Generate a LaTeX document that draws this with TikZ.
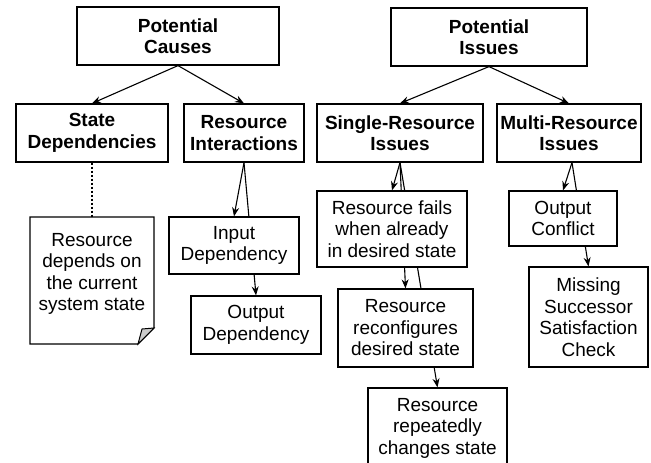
\documentclass[tikz,border=0pt]{standalone}
\usepackage{fontspec}
\setmainfont{Liberation Sans}
\usetikzlibrary{arrows.meta,positioning,backgrounds}

\begin{document}
\begin{tikzpicture}[x=1pt, y=-1pt,
  every node/.style={font=\fontsize{19}{21.5}\selectfont, align=center},
  head/.style={draw, line width=1.2pt, fill=white, inner sep=0pt, font=\fontsize{19}{21.5}\selectfont\bfseries},
  leaf/.style={draw, line width=1.2pt, fill=white, inner sep=0pt},
  arr/.style={-{Stealth[length=9pt,width=7pt]}, line width=1.1pt}
]
\useasboundingbox (0,0) rectangle (651,463);

% top level
\node[head, minimum width=202, minimum height=58] (causes) at (178,36) {Potential\\Causes};
\node[head, minimum width=196, minimum height=58] (issues) at (489,37) {Potential\\Issues};

% second level
\node[head, minimum width=152, minimum height=58] (statedep) at (92,133) {State\\Dependencies};
\node[head, minimum width=120, minimum height=58] (resint) at (244,133) {Resource\\Interactions};
\node[head, minimum width=166, minimum height=58] (single) at (400,133) {Single-Resource\\Issues};
\node[head, minimum width=144, minimum height=58] (multi) at (569,133) {Multi-Resource\\Issues};

% note with folded corner
\draw[line width=1.2pt, fill=white] (30,217) -- (154,217) -- (154,328) -- (138,344) -- (30,344) -- cycle;
\draw[line width=1pt, fill=gray!40] (154,328) -- (142,329) -- (138,344) -- cycle;
\node[minimum width=124, minimum height=114, inner sep=0pt] (note) at (92,274) {Resource\\depends on\\the current\\system state};

% leaves
\node[leaf, minimum width=130, minimum height=57] (indep) at (234,245.5) {Input\\Dependency};
\node[leaf, minimum width=130, minimum height=58] (outdep) at (256,325) {Output\\Dependency};
\node[leaf, minimum width=150, minimum height=76] (fails) at (392,229) {Resource fails\\when already\\in desired state};
\node[leaf, minimum width=135, minimum height=78] (reconf) at (405.5,328) {Resource\\reconfigures\\desired state};
\node[leaf, minimum width=139, minimum height=80] (repeats) at (437.5,428) {Resource\\repeatedly\\changes state};
\node[leaf, minimum width=108, minimum height=55] (conflict) at (563,218.5) {Output\\Conflict};
\node[leaf, minimum width=119, minimum height=100] (missing) at (588.5,317) {Missing\\Successor\\Satisfaction\\Check};

% connectors, behind the boxes
\begin{scope}[on background layer]
\draw[arr] (causes.south) -- (statedep.north);
\draw[arr] (causes.south) -- (resint.north);
\draw[arr] (issues.south) -- (single.north);
\draw[arr] (issues.south) -- (multi.north);
\draw[line width=1.1pt, dash pattern=on 2pt off 2pt] (statedep.south) -- (note.north);
\draw[arr] (resint.south) -- (indep.north);
\draw[arr] (resint.south) -- (outdep.north);
\draw[arr] (single.south) -- (fails.north);
\draw[arr] (single.south) -- (reconf.north);
\draw[arr] (single.south) -- (repeats.north);
\draw[arr] ([xshift=3pt]multi.south) -- (conflict.north);
\draw[arr] ([xshift=3pt]multi.south) -- (missing.north);
\end{scope}
\end{tikzpicture}
\end{document}
